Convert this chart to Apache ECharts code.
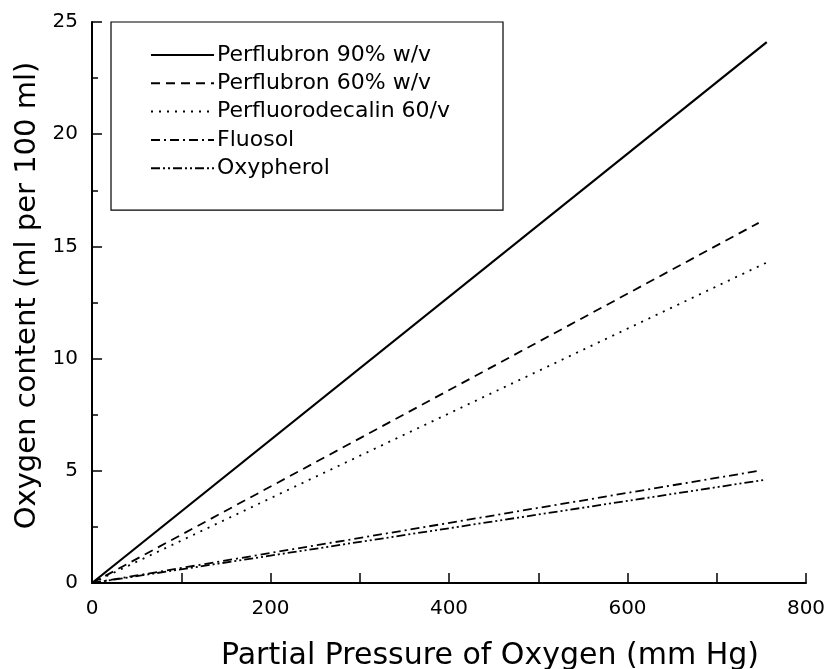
<!DOCTYPE html>
<html><head><meta charset="utf-8">
<script src="https://cdn.jsdelivr.net/npm/echarts@6/dist/echarts.min.js"></script>
<style>html,body{margin:0;padding:0;background:#fff}#c{width:827px;height:669px}</style>
</head><body><div id="c"></div>
<script>
var seriesNames = ["Perflubron 90% w/v","Perflubron 60% w/v","Perfluorodecalin 60/v","Fluosol","Oxypherol"];
var perflubron90 = [[0,0],[756,24.1]];
var perflubron60 = [[0,0],[747,16.05]];
var perfluorodecalin = [[0,0],[757,14.3]];
var fluosol = [[0,0],[747,5.0]];
var oxypherol = [[0,0],[754,4.6]];
var xTicks = [0,200,400,600,800];
var yTicks = [0,5,10,15,20,25];
var dashes = ['solid',[9,6],[2,6],[9,4,2,4],[9,3,2,3,2,3]];
var datas = [perflubron90, perflubron60, perfluorodecalin, fluosol, oxypherol];
var font = 'DejaVu Sans';
var chart = echarts.init(document.getElementById('c'));
chart.setOption({
  animation:false,
  backgroundColor:'#fff',
  textStyle:{fontFamily:font,color:'#000'},
  grid:{left:92,right:21,top:22,bottom:86,outerBoundsMode:'none',containLabel:false},
  legend:{
    orient:'vertical', left:111, top:22,
    borderColor:'#000', borderWidth:1.2,
    padding:[22,53,31,39],
    itemWidth:63, itemHeight:22, itemGap:6.3,
    itemStyle:{opacity:0,borderWidth:0},
    textStyle:{fontFamily:font,fontSize:22,color:'#000',padding:[0,0,0,-2]},
    data:seriesNames.map(function(n){return {name:n};})
  },
  xAxis:{
    type:'value', min:0, max:800, interval:200,
    name:'Partial Pressure of Oxygen (mm Hg)', nameLocation:'middle', nameGap:58,
    nameTextStyle:{fontFamily:font,fontSize:30,color:'#000',padding:[0,0,0,82]},
    axisLine:{lineStyle:{color:'#000',width:2}},
    axisTick:{inside:true,length:10,lineStyle:{color:'#000',width:1.5}},
    minorTick:{show:true,splitNumber:2,length:10,lineStyle:{color:'#000',width:1.5}},
    axisLabel:{fontFamily:font,fontSize:20,color:'#000',margin:16,formatter:function(v){return xTicks.indexOf(v)>=0?String(v):'';}},
    splitLine:{show:false}
  },
  yAxis:{
    type:'value', min:0, max:25, interval:5,
    name:'Oxygen content (ml per 100 ml)', nameLocation:'middle', nameGap:45,
    nameTextStyle:{fontFamily:font,fontSize:29,color:'#000',padding:[0,0,0,14]},
    axisLine:{lineStyle:{color:'#000',width:2}},
    axisTick:{inside:true,length:10,lineStyle:{color:'#000',width:1.5}},
    minorTick:{show:true,splitNumber:2,length:6,lineStyle:{color:'#000',width:1.5}},
    axisLabel:{fontFamily:font,fontSize:20,color:'#000',margin:14,formatter:function(v){return yTicks.indexOf(v)>=0?String(v):'';}},
    splitLine:{show:false}
  },
  series:seriesNames.map(function(n,i){
    return {name:n,type:'line',data:datas[i],symbol:'none',
      lineStyle:{color:'#000',width:i===0?2.2:1.8,type:dashes[i]},
      itemStyle:{color:'#000'}};
  })
});
</script></body></html>
